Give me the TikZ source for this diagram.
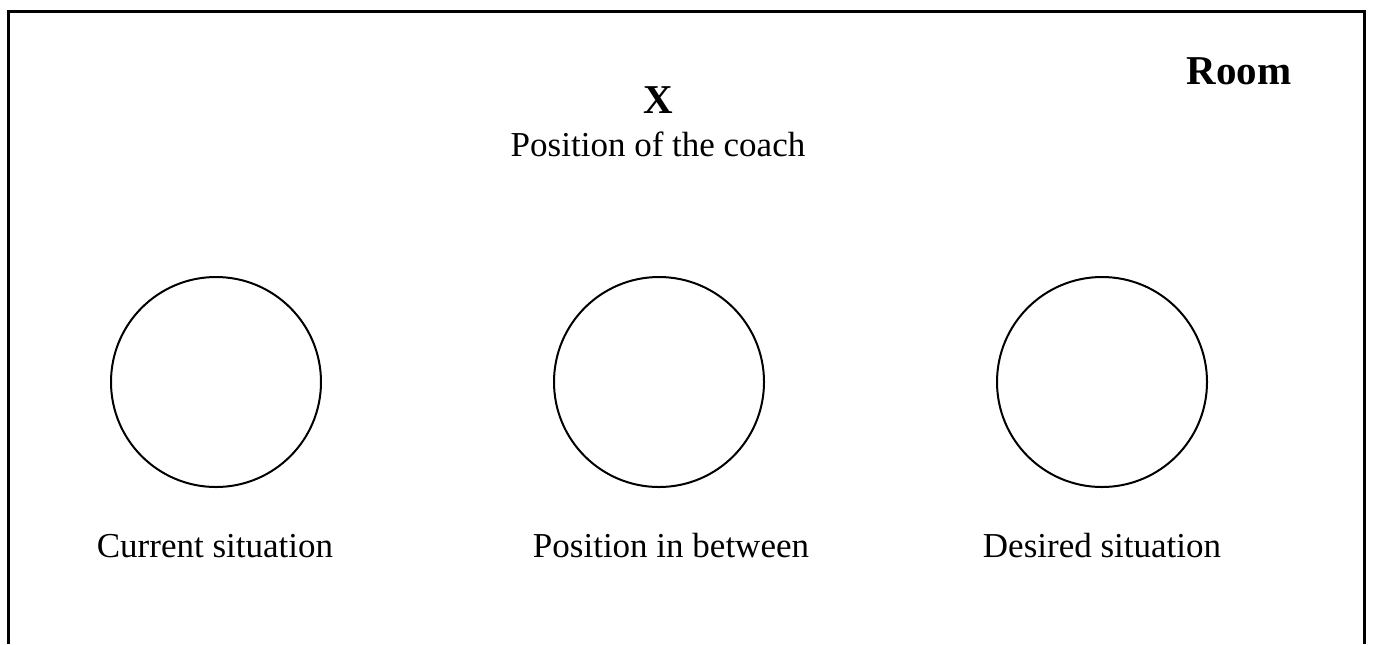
\documentclass[tikz,border=0pt]{standalone}
\usepackage{fontspec}
\setmainfont{Liberation Serif}
\usetikzlibrary{positioning}
\tikzset{
spot/.style={circle, draw, line width=1pt, minimum size=105pt, inner sep=0pt}, % the three positions on the floor
lbl/.style={anchor=base, font=\fontsize{17.5}{20}\selectfont}, % labels below the spots
big/.style={anchor=base, font=\fontsize{20.5}{24}\selectfont\bfseries}, % bold marks
}

\begin{document}
\begin{tikzpicture}[x=0.5pt, y=-0.5pt]
            \useasboundingbox (0,0) rectangle (1374,644);
            % walls of the room, open at the bottom
            \coordinate (wallA) at (8,644);
            \coordinate (wallB) at (8,11);
            \coordinate (wallC) at (1364,11);
            \coordinate (wallD) at (1364,644);
            \draw[line width=1.5pt] (wallA) -- (wallB) -- (wallC) -- (wallD);
            \node[big] (room) at (1239,84) {Room};
            \node[big] (coach) at (658,113) {X};
            \node[lbl] (coachtext) at (658,156) {Position of the coach};
            % the three spots
            \node[spot] (current) at (216,382) {};
            \node[spot] (between) at (659,382) {};
            \node[spot] (desired) at (1102,382) {};
            \node[lbl] (currenttext) at (215,557) {Current situation};
            \node[lbl] (betweentext) at (671,557) {Position in between};
            \node[lbl] (desiredtext) at (1102,557) {Desired situation};
\end{tikzpicture}
\end{document}
